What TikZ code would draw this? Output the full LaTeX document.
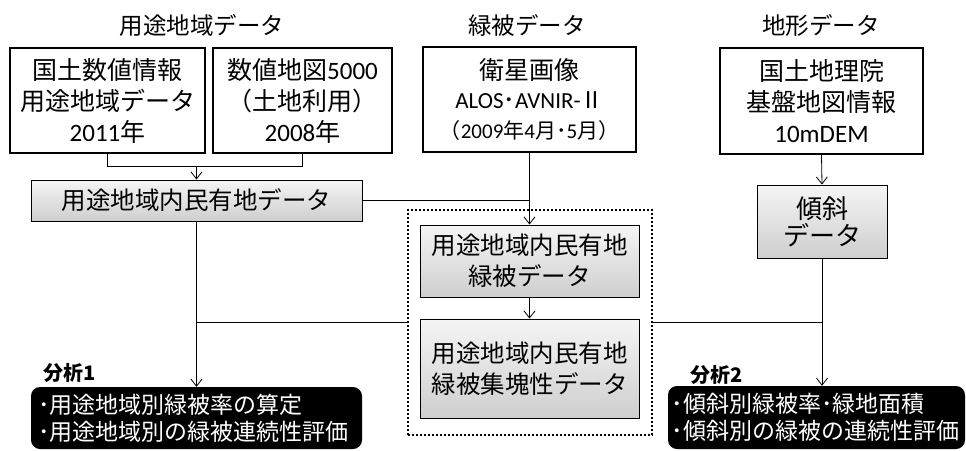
\documentclass[tikz,border=0pt]{standalone}
\usepackage{fontspec}
\setmainfont{Noto Sans CJK JP}
\newfontfamily\lat{Carlito}
\usetikzlibrary{arrows.meta}
\tikzset{
  src/.style={draw, line width=2.4pt, fill=white, align=center, inner sep=0pt,
    font=\fontsize{25}{31}\selectfont},
  grad/.style={draw, line width=0.9pt, top color=gray!8, bottom color=gray!38,
    align=center, inner sep=0pt, font=\fontsize{24.5}{31}\selectfont},
  res/.style={fill=black, rounded corners=9pt, text=white, align=left, inner sep=0pt,
    font=\fontsize{23}{27}\selectfont},
  ttl/.style={font=\fontsize{23.5}{28}\selectfont, inner sep=0pt},
  lbl/.style={font=\bfseries\fontsize{20}{22}\selectfont, inner sep=0pt},
  conn/.style={line width=0.8pt},
  arr/.style={line width=0.8pt, -{Straight Barb[length=7pt,width=11pt]}},
  dotbox/.style={draw, line width=2.6pt, dash pattern=on 2.2pt off 1.8pt, inner sep=0pt}
}
\begin{document}
\begin{tikzpicture}[x=1pt,y=-1pt]
\useasboundingbox (0,0) rectangle (966,450);
% titles
\node[ttl] (t1) at (202,25) {用途地域データ};
\node[ttl] (t2) at (527,25) {緑被データ};
\node[ttl] (t3) at (821,25) {地形データ};
% source boxes
\node[src, minimum width=195pt, minimum height=105pt] (b1) at (107.5,100.5)
  {国土数値情報\\用途地域データ\\{\lat 2011}年};
\node[src, minimum width=179pt, minimum height=105pt] (b2) at (302.5,100.5)
  {数値地図{\lat 5000}\\（土地利用）\\{\lat 2008}年};
\node[src, minimum width=213pt, minimum height=105pt] (sat) at (529.5,99.5)
  {衛星画像\\[-2pt]{\fontsize{23}{26}\selectfont{\lat ALOS}･{\lat AVNIR-}Ⅱ}\\[-1pt]{\fontsize{21}{24}\selectfont（{\lat 2009}年{\lat 4}月･{\lat 5}月）}};
\node[src, minimum width=203pt, minimum height=106pt] (topo) at (821.5,101)
  {国土地理院\\基盤地図情報\\{\lat 10mDEM}};
% gray boxes
\node[grad, minimum width=331pt, minimum height=41pt] (b3) at (196.5,200.5)
  {用途地域内民有地データ};
\node[grad, minimum width=130pt, minimum height=73pt, font=\fontsize{26}{27}\selectfont] (slope) at (822,221.5)
  {傾斜\\データ};
\node[dotbox, minimum width=244pt, minimum height=225pt] (dots) at (530,322.5) {};
\node[grad, minimum width=219pt, minimum height=72pt] (g1) at (529.5,261)
  {用途地域内民有地\\緑被データ};
\node[grad, minimum width=219pt, minimum height=99pt] (g2) at (529.5,368.5)
  {用途地域内民有地\\緑被集塊性データ};
% result boxes
\node[res, minimum width=331pt, minimum height=62pt, text width=317pt] (a1) at (196.5,418)
  {･用途地域別緑被率の算定\\･用途地域別の緑被連続性評価};
\node[res, minimum width=297pt, minimum height=63pt, text width=290pt] (a2) at (816.5,417.5)
  {･傾斜別緑被率･緑地面積\\･傾斜別の緑被の連続性評価};
\node[lbl, anchor=west] (l1) at (43,373) {分析1};
\node[lbl, anchor=west] (l2) at (690,375) {分析2};
% connectors
\coordinate (m1) at (b1.south |- 0,166);
\draw[conn] (b1.south) -- (m1) -| (b2.south);
\draw[arr] (b3.north |- m1) -- (b3.north);
\draw[conn] (b3.east) -- (b3.east -| sat.south);
\draw[arr] (sat.south) -- (g1.north);
\draw[arr] (g1.south) -- (g2.north);
\draw[arr] (topo.south) -- (slope.north);
\draw[arr] (b3.south) -- (a1.north);
\draw[arr] (slope.south) -- (slope.south |- a2.north);
\coordinate (j1) at (b3.south |- dots.west);
\draw[conn] (j1) -- (dots.west);
\draw[conn] (dots.east) -- (dots.east -| slope.south);
\end{tikzpicture}
\end{document}
